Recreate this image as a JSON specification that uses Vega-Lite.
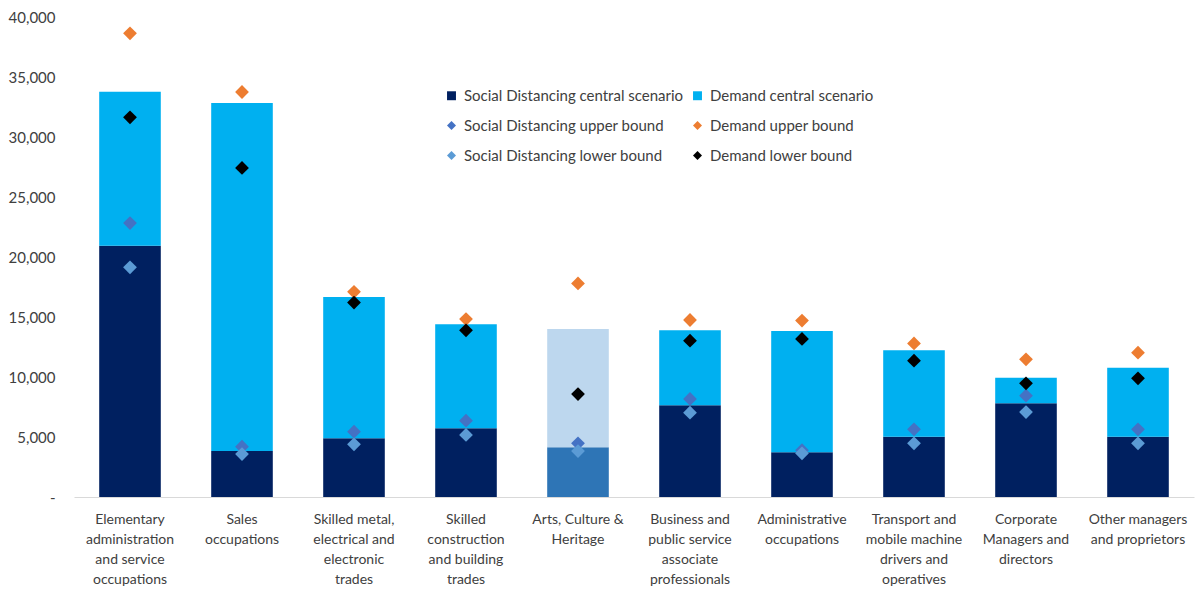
{
  "$schema": "https://vega.github.io/schema/vega-lite/v6.json",
  "width": 1120,
  "height": 480,
  "autosize": {"type": "none"},
  "padding": {"left": 74, "top": 17, "right": 7, "bottom": 94},
  "background": "white",
  "config": {
    "view": {"stroke": null},
    "font": "Lato",
    "axis": {"labelFont": "Lato", "labelFontSize": 15, "labelColor": "#404040"},
    "legend": {"labelFont": "Lato", "labelFontSize": 15, "labelColor": "#404040"}
  },
  "data": {
    "values": [
      {"occ": "Elementary\nadministration\nand service\noccupations", "sd": 20940, "demand": 33780, "sdUpper": 22830, "sdLower": 19140, "demUpper": 38640, "demLower": 31640},
      {"occ": "Sales\noccupations", "sd": 3830, "demand": 32830, "sdUpper": 4190, "sdLower": 3580, "demUpper": 33750, "demLower": 27420},
      {"occ": "Skilled metal,\nelectrical and\nelectronic\ntrades", "sd": 4890, "demand": 16670, "sdUpper": 5440, "sdLower": 4390, "demUpper": 17100, "demLower": 16200},
      {"occ": "Skilled\nconstruction\nand building\ntrades", "sd": 5720, "demand": 14390, "sdUpper": 6360, "sdLower": 5170, "demUpper": 14830, "demLower": 13890},
      {"occ": "Arts, Culture &\nHeritage", "sd": 4140, "demand": 14000, "sdUpper": 4470, "sdLower": 3830, "demUpper": 17800, "demLower": 8580},
      {"occ": "Business and\npublic service\nassociate\nprofessionals", "sd": 7640, "demand": 13890, "sdUpper": 8170, "sdLower": 7030, "demUpper": 14750, "demLower": 13030},
      {"occ": "Administrative\noccupations", "sd": 3720, "demand": 13830, "sdUpper": 3900, "sdLower": 3640, "demUpper": 14700, "demLower": 13170},
      {"occ": "Transport and\nmobile machine\ndrivers and\noperatives", "sd": 5030, "demand": 12220, "sdUpper": 5640, "sdLower": 4470, "demUpper": 12800, "demLower": 11360},
      {"occ": "Corporate\nManagers and\ndirectors", "sd": 7810, "demand": 9940, "sdUpper": 8440, "sdLower": 7080, "demUpper": 11470, "demLower": 9470},
      {"occ": "Other managers\nand proprietors", "sd": 5030, "demand": 10780, "sdUpper": 5640, "sdLower": 4470, "demUpper": 12030, "demLower": 9890}
    ]
  },
  "encoding": {
    "x": {
      "field": "occ",
      "type": "nominal",
      "sort": null,
      "title": null,
      "scale": {"paddingInner": 0.45, "paddingOuter": 0.225},
      "axis": {
        "labelAngle": 0,
        "labelExpr": "split(datum.value, '\\n')",
        "labelFontSize": 14,
        "labelLineHeight": 20,
        "labelBaseline": "top",
        "labelPadding": 15,
        "ticks": false,
        "domainColor": "#D9D9D9",
        "domainWidth": 1,
        "labelLimit": 200
      }
    }
  },
  "layer": [
    {
      "mark": {"type": "bar"},
      "encoding": {
        "y": {
          "field": "sd",
          "type": "quantitative",
          "title": null,
          "scale": {"domain": [0, 40000], "nice": false},
          "axis": {
            "values": [0, 5000, 10000, 15000, 20000, 25000, 30000, 35000, 40000],
            "labelExpr": "datum.value === 0 ? '-' : format(datum.value, ',')",
            "domain": false,
            "ticks": false,
            "grid": false,
            "labelPadding": 19
          }
        },
        "color": {
          "datum": "Social Distancing central scenario",
          "condition": {"test": "indexof(datum.occ, 'Arts') === 0", "value": "#2E75B6"}
        }
      }
    },
    {
      "mark": {"type": "bar"},
      "encoding": {
        "y": {"field": "demand", "type": "quantitative"},
        "y2": {"field": "sd"},
        "color": {
          "datum": "Demand central scenario",
          "condition": {"test": "indexof(datum.occ, 'Arts') === 0", "value": "#BDD7EE"}
        }
      }
    },
    {
      "mark": {"type": "point", "shape": "diamond", "filled": true, "opacity": 1, "size": 190},
      "encoding": {
        "y": {"field": "sdUpper", "type": "quantitative"},
        "color": {"datum": "Social Distancing upper bound"}
      }
    },
    {
      "mark": {"type": "point", "shape": "diamond", "filled": true, "opacity": 1, "size": 190},
      "encoding": {
        "y": {"field": "sdLower", "type": "quantitative"},
        "color": {"datum": "Social Distancing lower bound"}
      }
    },
    {
      "mark": {"type": "point", "shape": "diamond", "filled": true, "opacity": 1, "size": 190},
      "encoding": {
        "y": {"field": "demUpper", "type": "quantitative"},
        "color": {"datum": "Demand upper bound"}
      }
    },
    {
      "mark": {"type": "point", "shape": "diamond", "filled": true, "opacity": 1, "size": 190},
      "encoding": {
        "y": {"field": "demLower", "type": "quantitative"},
        "color": {
          "datum": "Demand lower bound",
          "scale": {
            "domain": [
              "Social Distancing central scenario",
              "Social Distancing upper bound",
              "Social Distancing lower bound",
              "Demand central scenario",
              "Demand upper bound",
              "Demand lower bound"
            ],
            "range": ["#002060", "#4472C4", "#5B9BD5", "#00B0F0", "#ED7D31", "#000000"]
          },
          "legend": {
            "title": null,
            "orient": "none",
            "legendX": 370,
            "legendY": 71,
            "columns": 2,
            "columnPadding": 6,
            "rowPadding": 14,
            "labelLimit": 400,
            "symbolSize": 80,
            "symbolOpacity": 1,
            "symbolStrokeWidth": 0,
            "labelOffset": 5,
            "padding": 0,
            "encode": {
              "symbols": {
                "update": {
                  "shape": {"signal": "indexof(datum.value, 'central') >= 0 ? 'square' : 'diamond'"},
                  "fill": {"scale": "color", "field": "value"},
                  "opacity": {"value": 1}
                }
              }
            }
          }
        }
      }
    }
  ]
}
